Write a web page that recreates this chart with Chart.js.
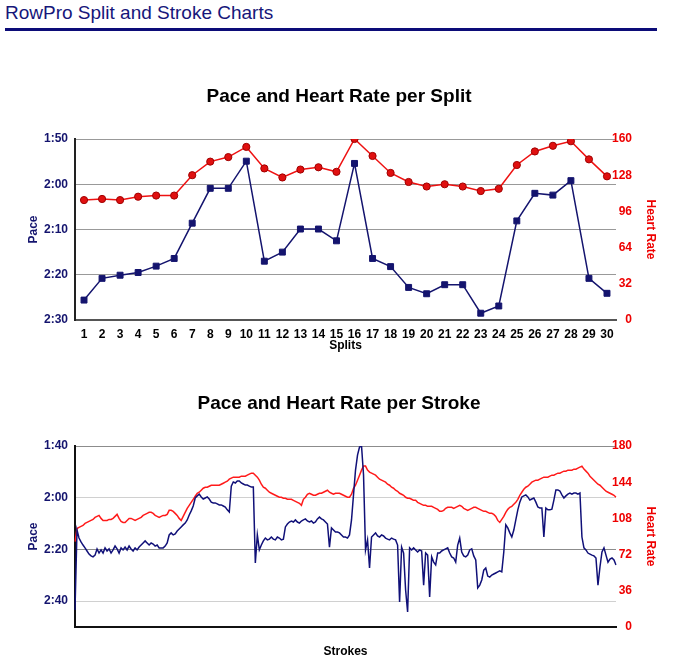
<!DOCTYPE html>
<html><head><meta charset="utf-8">
<script src="https://cdn.jsdelivr.net/npm/chart.js@4.4.1/dist/chart.umd.min.js"></script>
<style>
html,body{margin:0;padding:0;background:#fff;width:678px;height:659px;overflow:hidden;position:relative;font-family:"Liberation Sans",Arial,Helvetica,sans-serif;}
#hdr{position:absolute;left:5px;top:3px;font-size:19px;line-height:19px;color:#16167a;white-space:nowrap;}
#rule{position:absolute;left:5px;top:28px;width:652px;height:3px;background:#0c0c78;}
#c1{position:absolute;left:0;top:75px;width:678px;height:285px;}
#c2{position:absolute;left:0;top:382px;width:678px;height:277px;}
</style></head><body>
<div id="hdr">RowPro Split and Stroke Charts</div>
<div id="rule"></div>
<canvas id="c1" width="678" height="285"></canvas>
<canvas id="c2" width="678" height="277"></canvas>
<script>
// ---- Split chart data ----
const splitLabels = ['1','2','3','4','5','6','7','8','9','10','11','12','13','14','15','16','17','18','19','20','21','22','23','24','25','26','27','28','29','30'];
const splitPace = [145.6,140.8,140.1,139.5,138.1,136.4,128.6,120.9,120.9,114.9,137.0,135.0,129.9,129.9,132.5,115.4,136.4,138.2,142.8,144.2,142.2,142.2,148.5,146.9,128.1,122.0,122.4,119.2,140.8,144.1];
const splitHR = [106,107,106,109,110,110,128,140,144,153,134,126,133,135,131,160,145,130,122,118,120,118,114,116,137,149,154,158,142,127];

// ---- Stroke chart data (pace in seconds, heart rate in bpm) ----
const strokePace = [
163.4,132.5,135.6,137.1,138.3,139.4,140.6,141.8,142.5,142.9,
142.2,139.8,141.4,140.2,141.4,139.4,140.6,139.8,141.4,140.2,
138.7,139.8,141.4,139.4,140.2,139.1,140.2,138.7,139.8,140.6,
139.4,140.2,139.1,138.3,137.5,136.7,137.5,138.3,137.5,137.9,
138.7,138.3,139.4,139.4,139.4,138.7,137.5,134.4,133.6,134.4,
134.0,132.9,132.1,131.3,130.5,129.8,128.6,126.7,125.1,123.2,
120.1,119.3,118.6,119.7,120.5,120.1,119.7,120.5,121.7,122.0,
122.0,122.4,122.8,122.8,123.2,123.6,124.7,125.5,115.5,113.9,
114.3,113.5,113.5,114.3,114.7,115.1,115.1,115.5,115.9,115.9,
145.2,134.4,140.2,138.3,136.7,135.6,136.3,136.0,135.2,136.0,
136.3,135.2,135.6,136.3,136.0,131.3,130.2,129.4,129.0,129.4,
128.6,129.4,129.8,129.0,128.6,128.2,129.0,129.4,129.0,129.8,
129.4,128.2,127.5,128.2,128.6,129.4,130.2,139.1,131.7,132.5,
133.3,133.3,133.6,134.4,135.2,135.2,135.6,134.4,128.6,118.9,
109.3,103.5,100.4,100.0,111.2,140.2,136.3,147.2,135.2,134.4,
133.6,134.8,135.2,134.4,134.8,135.6,136.0,136.3,135.6,136.0,
136.3,138.3,160.3,139.1,141.4,155.7,164.2,139.4,140.2,139.4,
140.2,141.0,140.2,140.6,153.8,141.4,142.2,158.4,142.9,144.9,
146.0,141.4,141.4,140.6,140.2,139.8,139.4,141.4,142.9,143.3,
144.9,138.3,135.6,141.0,142.5,142.9,142.2,140.2,139.8,142.5,
144.1,154.9,153.8,151.8,148.0,147.2,150.3,150.7,149.9,149.5,
149.1,148.7,148.3,148.7,141.0,130.5,131.7,133.6,135.2,132.5,
128.6,124.7,121.7,119.7,119.3,118.9,119.7,120.9,120.5,120.1,
121.7,123.6,124.0,124.0,135.2,124.0,124.7,124.7,124.4,120.9,
117.0,117.0,117.4,118.9,120.1,119.3,118.6,118.2,118.6,118.2,
118.2,118.6,118.2,135.2,139.4,140.2,141.4,141.8,142.2,142.5,
143.3,153.8,146.8,141.0,139.4,142.2,144.9,143.7,143.3,144.1,
146.0];
const strokeHR = [
85,98,99,100,101,103,104,105,106,107,
109,110,111,108,106,106,106,107,107,108,
110,112,108,105,104,104,106,108,108,107,
106,107,108,109,111,112,113,114,114,113,
111,110,109,110,111,111,112,116,116,115,
113,111,108,106,110,114,118,121,124,127,
130,133,134,136,138,139,139,140,141,141,
141,141,141,142,143,144,145,147,148,149,
149,149,149,150,150,150,151,152,153,153,
151,149,146,142,139,138,136,134,133,132,
131,130,129,129,128,128,127,127,127,126,
125,124,123,121,127,129,132,133,132,131,
131,132,133,133,134,135,136,134,133,132,
133,133,133,132,131,130,129,129,132,138,
141,146,151,156,160,160,156,154,153,152,
151,149,147,146,145,144,142,141,139,138,
136,135,133,132,131,129,128,128,127,126,
126,124,123,122,121,121,120,120,120,119,
118,117,115,115,116,118,119,119,119,118,
119,120,121,120,118,117,116,117,118,119,
119,118,117,116,115,115,114,113,113,112,
110,106,104,107,110,114,117,119,120,122,
124,127,131,134,137,139,140,142,144,145,
146,146,147,148,149,149,149,150,151,151,
152,153,153,154,155,155,156,156,156,157,
157,158,159,160,157,155,153,150,148,146,
144,142,141,139,137,135,134,133,132,131,
129];
const strokeLabels = strokePace.map((_, i) => String(i + 1));

// ---- styling ----
Chart.defaults.font.family = '"Liberation Sans", Arial, Helvetica, sans-serif';
const NAVY = '#14146e';
const RED = '#ee1111';
const RED_TXT = '#ee0000';
function fmtPace(v){ const m = Math.floor(v/60); const s = Math.round(v - m*60); return m + ':' + (s < 10 ? '0' : '') + s; }
function fixW(w){ return function(scale){ scale.width = w; }; }
function fixH(h){ return function(scale){ scale.height = h; }; }
const boldFont = {size:12, weight:'bold'};
const rightTicks = (step) => ({stepSize:step, color:RED_TXT, font:boldFont, mirror:true, crossAlign:'near', padding:16});

new Chart(document.getElementById('c1'), {
  type: 'line',
  data: {
    labels: splitLabels,
    datasets: [
      {label:'Pace', data:splitPace, yAxisID:'yPace', borderColor:NAVY, backgroundColor:NAVY,
       pointStyle:'rect', pointRadius:4.2, pointBackgroundColor:NAVY, pointBorderColor:NAVY, pointBorderWidth:1,
       borderWidth:1.5, tension:0, order:1},
      {label:'Heart Rate', data:splitHR, yAxisID:'yHR', borderColor:RED, backgroundColor:RED,
       pointStyle:'circle', pointRadius:3.6, pointBackgroundColor:'#e01010', pointBorderColor:'#a00000', pointBorderWidth:1,
       borderWidth:1.5, tension:0, order:2}
    ]
  },
  options: {
    responsive:false, animation:false, devicePixelRatio:1,
    layout:{padding:0},
    plugins:{
      legend:{display:false}, tooltip:{enabled:false},
      title:{display:true, text:'Pace and Heart Rate per Split', color:'#000', font:{size:19, weight:'bold'}, padding:{top:10.6, bottom:30.6}}
    },
    scales:{
      x:{offset:true, grid:{display:false, drawTicks:false}, border:{display:true, color:'#555', width:2},
         ticks:{color:'#000', font:boldFont, padding:7, autoSkip:false, maxRotation:0},
         title:{display:true, text:'Splits', color:'#000', font:boldFont, padding:{top:0, bottom:7}},
         afterFit: fixH(40)},
      yPace:{position:'left', reverse:true, min:110, max:150,
         ticks:{stepSize:10, color:NAVY, font:boldFont, padding:7, callback:fmtPace},
         grid:{color:'#999', lineWidth:1, drawTicks:false}, border:{color:'#222', width:2},
         title:{display:true, text:'Pace', color:NAVY, font:boldFont, padding:{top:26, bottom:0}},
         afterFit: fixW(75)},
      yHR:{position:'right', min:0, max:160,
         ticks: rightTicks(32),
         grid:{drawOnChartArea:false, drawTicks:false}, border:{display:false},
         title:{display:true, text:'Heart Rate', color:RED_TXT, font:boldFont, padding:{top:20, bottom:0}},
         afterFit: fixW(62)}
    }
  }
});

new Chart(document.getElementById('c2'), {
  type: 'line',
  data: {
    labels: strokeLabels,
    datasets: [
      {label:'Pace', data:strokePace, yAxisID:'yPace', borderColor:'#101078', borderWidth:1.5, pointRadius:0, tension:0, order:1},
      {label:'Heart Rate', data:strokeHR, yAxisID:'yHR', borderColor:'#ff1a1a', borderWidth:1.5, pointRadius:0, tension:0, order:2}
    ]
  },
  options: {
    responsive:false, animation:false, devicePixelRatio:1,
    layout:{padding:0},
    plugins:{
      legend:{display:false}, tooltip:{enabled:false},
      title:{display:true, text:'Pace and Heart Rate per Stroke', color:'#000', font:{size:19, weight:'bold'}, padding:{top:10.6, bottom:30.6}}
    },
    scales:{
      x:{offset:false, grid:{display:false, drawTicks:false}, border:{display:true, color:'#111', width:2},
         ticks:{display:false},
         title:{display:true, text:'Strokes', color:'#000', font:boldFont, padding:{top:0, bottom:0}},
         afterFit: fixH(32)},
      yPace:{position:'left', reverse:true, min:100, max:170,
         ticks:{stepSize:20, color:NAVY, font:boldFont, padding:7, callback:fmtPace},
         afterBuildTicks: function(scale){ scale.ticks = scale.ticks.filter(t => t.value % 20 === 0); },
         grid:{color: ctx => (ctx.tick && (ctx.tick.value === 120 || ctx.tick.value === 160)) ? '#d0d0d0' : '#8c8c8c', lineWidth:1, drawTicks:false},
         border:{color:'#111', width:2},
         title:{display:true, text:'Pace', color:NAVY, font:boldFont, padding:{top:26, bottom:0}},
         afterFit: fixW(75)},
      yHR:{position:'right', min:0, max:180,
         ticks: rightTicks(36),
         grid:{drawOnChartArea:false, drawTicks:false}, border:{display:false},
         title:{display:true, text:'Heart Rate', color:RED_TXT, font:boldFont, padding:{top:20, bottom:0}},
         afterFit: fixW(62)}
    }
  }
});
</script>
</body></html>
